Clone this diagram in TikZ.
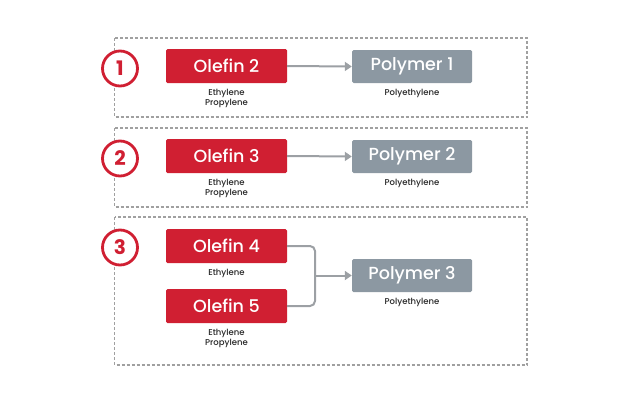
\documentclass[tikz,border=0pt]{standalone}
\usepackage{fontspec}
\setmainfont{Poppins}
\newfontfamily\boxfont{Poppins Medium}
\usepackage{tikz}
\usetikzlibrary{arrows.meta}
\definecolor{olefinred}{HTML}{D01F32}
\definecolor{polygray}{HTML}{8C98A2}
\definecolor{framegray}{HTML}{A0A0A0}
\definecolor{linkgray}{HTML}{9CA0A4}

\begin{document}
\begin{tikzpicture}[x=1pt,y=-1pt,>={Triangle[length=7pt,width=9pt]},
        olefin/.style={rectangle,fill=olefinred,text=white,rounded corners=1.5pt,
                    minimum width=121pt,minimum height=34pt,inner sep=0pt,
                    font=\boxfont\fontsize{17.5}{17.5}\selectfont},
        polymer/.style={rectangle,fill=polygray,text=white,rounded corners=1.5pt,
                    minimum width=120pt,minimum height=33pt,inner sep=0pt,
                    font=\boxfont\fontsize{17.5}{17.5}\selectfont},
        feed/.style={align=center,inner sep=0pt,text=black!85,
                    font=\boxfont\fontsize{8.5}{10}\selectfont},
        stage/.style={circle,draw=olefinred,line width=2.8pt,fill=white,
                    minimum size=35pt,inner sep=0pt,text=olefinred,
                    font=\fontsize{20}{20}\selectfont\bfseries},
        frame/.style={draw=framegray,line width=1.1pt,dash pattern=on 3pt off 2pt},
        link/.style={draw=linkgray,line width=2pt}]
      \useasboundingbox (0,0) rectangle (640,402);
      %% ── Dashed frames ─────────────────────────────────────
      \draw[frame] (114.5,38) rectangle (527,117);
      \draw[frame] (114.5,128) rectangle (527,207);
      \draw[frame] (114.5,217) rectangle (527,365);
      %% ── Stage numbers ─────────────────────────────────────
      \node[stage] (s1) at (120,68.5) {1};
      \node[stage] (s2) at (120,158.5) {2};
      \node[stage] (s3) at (120,247.5) {3};
      %% ── Stage 1 ───────────────────────────────────────────
      \node[olefin]  (o2) at (226.5,66) {Olefin 2};
      \node[polymer] (p1) at (412,66.5) {Polymer 1};
      \node[feed] (f2) at (226.5,98) {Ethylene\\Propylene};
      \node[feed] (q1) at (412,93) {Polyethylene};
      \draw[->,link] (o2.east) -- (p1.west);
      %% ── Stage 2 ───────────────────────────────────────────
      \node[olefin]  (o3) at (226.5,156) {Olefin 3};
      \node[polymer] (p2) at (412,156.5) {Polymer 2};
      \node[feed] (f3) at (226.5,188) {Ethylene\\Propylene};
      \node[feed] (q2) at (412,183) {Polyethylene};
      \draw[->,link] (o3.east) -- (p2.west);
      %% ── Stage 3: two feeds merge ──────────────────────────
      \node[olefin]  (o4) at (226.5,246) {Olefin 4};
      \node[olefin]  (o5) at (226.5,306) {Olefin 5};
      \node[polymer] (p3) at (412,275.5) {Polymer 3};
      \node[feed] (f4) at (226.5,273) {Ethylene};
      \node[feed] (f5) at (226.5,338) {Ethylene\\Propylene};
      \node[feed] (q3) at (412,302) {Polyethylene};
      \coordinate (mj) at (315,275.5);
      \draw[link,rounded corners=5pt] (o4.east) -| (mj) |- (o5.east);
      \draw[->,link] (mj) -- (p3.west);
    \end{tikzpicture}
\end{document}
